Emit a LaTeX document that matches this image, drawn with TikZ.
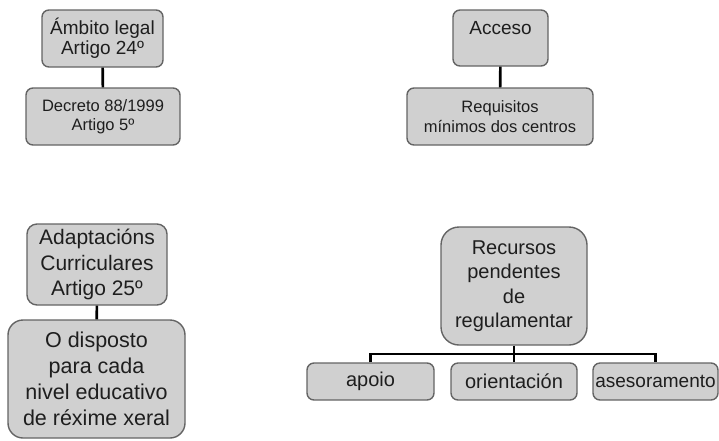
\documentclass[tikz,border=0pt]{standalone}
\usepackage{fontspec}
\setmainfont{Liberation Sans}
\usetikzlibrary{calc}

\definecolor{boxfill}{RGB}{208,208,208}
\definecolor{boxline}{RGB}{100,100,100}
\definecolor{boxtext}{RGB}{30,30,30}

\begin{document}
\begin{tikzpicture}[
  x=1pt, y=-1pt,
  box/.style={draw=boxline, fill=boxfill, text=boxtext, line width=1.4pt, rounded corners=7pt, align=center, inner sep=0pt},
  link/.style={draw=black, line width=2.6pt}
]
\useasboundingbox (0,0) rectangle (719,440);

% Ambito legal
\node[box, minimum width=121pt, minimum height=57pt, font=\fontsize{19}{20}\selectfont] (ambito) at (102.5,38.5) {Ámbito legal\\Artigo 24º};
\node[box, minimum width=154pt, minimum height=57pt, font=\fontsize{16.5}{19.5}\selectfont] (decreto) at (103,116.5) {Decreto 88/1999\\Artigo 5º};

% Acceso
\node[box, minimum width=95pt, minimum height=56pt, font=\fontsize{19}{20}\selectfont] (acceso) at (500.5,38) {Acceso\\~};
\node[box, minimum width=186pt, minimum height=57pt, font=\fontsize{16.5}{20}\selectfont] (requisitos) at (500,116.5) {Requisitos\\mínimos dos centros};

% Adaptacions curriculares
\node[box, rounded corners=10pt, minimum width=140pt, minimum height=81pt, font=\fontsize{21}{25.5}\selectfont] (adapt) at (97,264.5) {Adaptacións\\Curriculares\\Artigo 25º};
\node[box, rounded corners=15pt, minimum width=177pt, minimum height=118pt, font=\fontsize{21.5}{26}\selectfont] (disposto) at (96.5,379) {O disposto\\para cada\\nivel educativo\\de réxime xeral};

% Recursos
\node[box, rounded corners=18pt, minimum width=146pt, minimum height=118pt, font=\fontsize{20}{24.5}\selectfont] (recursos) at (514,286) {Recursos\\pendentes\\de\\regulamentar};
\node[box, minimum width=127pt, minimum height=37pt, font=\fontsize{20}{24}\selectfont] (apoio) at (370.5,381.5) {apoio};
\node[box, minimum width=126pt, minimum height=37pt, font=\fontsize{20}{24}\selectfont] (orient) at (514,381.5) {orientación};
\node[box, minimum width=125pt, minimum height=37pt, font=\fontsize{19}{24}\selectfont] (asesor) at (655.5,381.5) {asesoramento};

% Connections
\draw[link] (ambito) -- (decreto);
\draw[link] (acceso) -- (requisitos);
\draw[link] (adapt) -- (disposto);
\draw[link] (recursos) -- (orient);
\coordinate (bus) at ($(recursos.south)!0.5!(orient.north)$);
\draw[link] (apoio.north) |- (bus) -| (asesor.north);

\end{tikzpicture}
\end{document}
